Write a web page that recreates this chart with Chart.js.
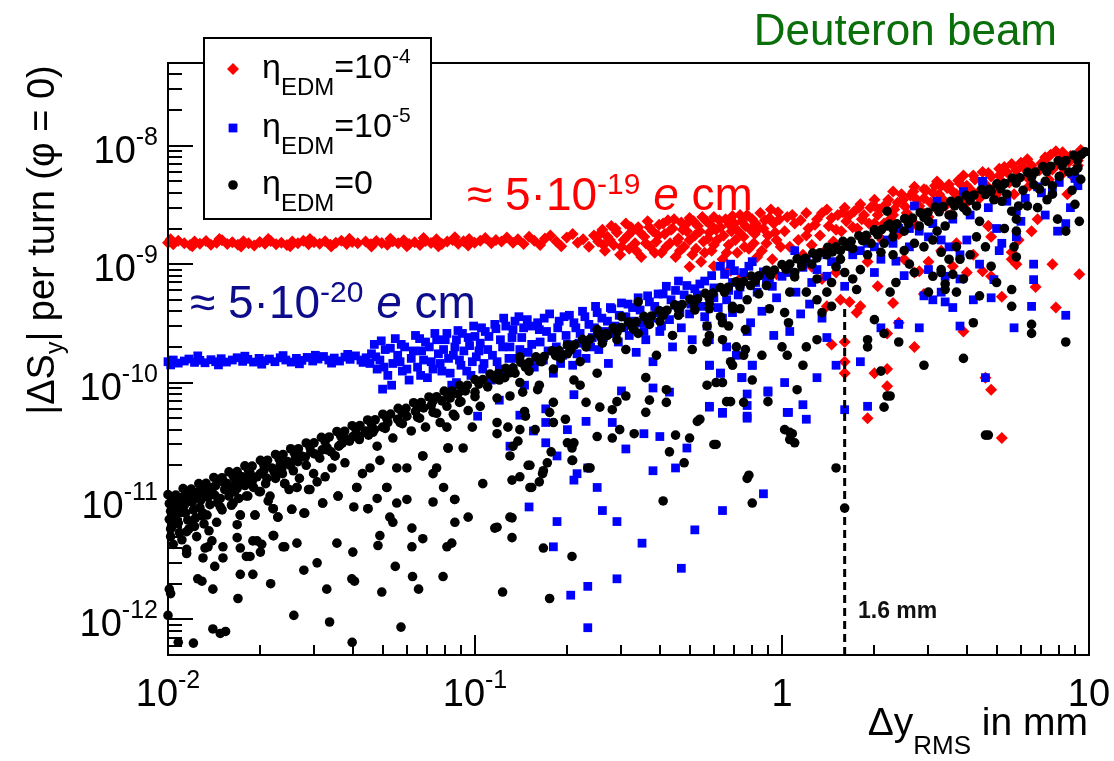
<!DOCTYPE html>
<html>
<head>
<meta charset="utf-8">
<script src="https://cdn.jsdelivr.net/npm/chart.js@4.4.0/dist/chart.umd.min.js"></script>
<style>
  html, body { margin: 0; padding: 0; background: #fff; }
</style>
</head>
<body>
<canvas id="spin_vs_dy" width="1114" height="761"></canvas>
<script>
const FONT = '"Liberation Sans", Arial, Helvetica, sans-serif';

// axis ticks and labels
const xTicks = [0.01, 0.1, 1, 10];
const xTickLabels = [['10', '-2'], ['10', '-1'], ['1', ''], ['10', '']];
const yTicks = [1e-12, 1e-11, 1e-10, 1e-9, 1e-8];
const yTickLabels = [['10', '-12'], ['10', '-11'], ['10', '-10'], ['10', '-9'], ['10', '-8']];

// dashed marker at 1.6 mm
const cutLine = [[1.6, 5e-13], [1.6, 4.2e-10]];

// eta_EDM = 1e-4 (red)
const redPoints = [
  [0.0100,1.52e-9],[0.0104,1.47e-9],[0.0108,1.58e-9],[0.0113,1.50e-9],[0.0118,1.45e-9],[0.0122,1.55e-9],[0.0127,1.49e-9],[0.0133,1.57e-9],
  [0.0138,1.46e-9],[0.0144,1.52e-9],[0.0150,1.59e-9],[0.0156,1.48e-9],[0.0162,1.53e-9],[0.0169,1.46e-9],[0.0176,1.56e-9],[0.0183,1.50e-9],
  [0.0191,1.44e-9],[0.0199,1.54e-9],[0.0207,1.49e-9],[0.0216,1.57e-9],[0.0225,1.47e-9],[0.0234,1.52e-9],[0.0244,1.45e-9],[0.0254,1.55e-9],
  [0.0265,1.50e-9],[0.0276,1.58e-9],[0.0287,1.47e-9],[0.0299,1.53e-9],[0.0312,1.49e-9],[0.0325,1.56e-9],[0.0338,1.46e-9],[0.0352,1.52e-9],
  [0.0367,1.58e-9],[0.0382,1.48e-9],[0.0398,1.54e-9],[0.0415,1.50e-9],[0.0440,1.55e-9],[0.0458,1.47e-9],[0.0477,1.57e-9],[0.0497,1.51e-9],
  [0.0518,1.46e-9],[0.0540,1.56e-9],[0.0562,1.50e-9],[0.0586,1.59e-9],[0.0610,1.48e-9],[0.0636,1.53e-9],[0.0662,1.45e-9],[0.0690,1.57e-9],
  [0.0719,1.51e-9],[0.0749,1.62e-9],[0.0780,1.48e-9],[0.0812,1.55e-9],[0.0846,1.60e-9],[0.0882,1.49e-9],[0.0918,1.56e-9],[0.0957,1.63e-9],
  [0.0997,1.52e-9],[0.104,1.58e-9],[0.108,1.66e-9],[0.113,1.50e-9],[0.117,1.60e-9],[0.122,1.55e-9],[0.127,1.68e-9],[0.133,1.52e-9],
  [0.138,1.62e-9],[0.144,1.48e-9],[0.150,1.70e-9],[0.156,1.58e-9],[0.163,1.45e-9],[0.169,1.65e-9],[0.176,1.75e-9],[0.184,1.55e-9],
  [0.191,1.42e-9],[0.199,1.68e-9],[0.208,1.80e-9],[0.216,1.52e-9],[0.225,1.62e-9],[0.235,1.40e-9],[0.244,1.75e-9],
  [0.0102,1.62e-9],[0.012,1.42e-9],[0.0147,1.63e-9],[0.0173,1.41e-9],[0.0212,1.63e-9],[0.025,1.42e-9],[0.029,1.63e-9],[0.034,1.41e-9],
  [0.039,1.64e-9],[0.046,1.41e-9],[0.053,1.64e-9],[0.06,1.42e-9],[0.068,1.66e-9],[0.076,1.42e-9],[0.086,1.69e-9],[0.095,1.44e-9],
  [0.252,1.55e-9],[0.26,1.95e-9],[0.265,1.3e-9],[0.27,1.7e-9],[0.278,2.1e-9],[0.283,1.45e-9],[0.29,1.85e-9],[0.297,1.2e-9],
  [0.305,1.6e-9],[0.31,2.2e-9],[0.318,1.35e-9],[0.325,1.9e-9],[0.332,1.5e-9],[0.34,2.05e-9],[0.348,1.15e-9],[0.356,1.7e-9],
  [0.365,2.3e-9],[0.372,1.4e-9],[0.38,1.9e-9],[0.39,1.55e-9],[0.398,2.15e-9],[0.405,1.25e-9],[0.415,1.8e-9],[0.425,2.35e-9],
  [0.432,1.5e-9],[0.44,2.0e-9],[0.45,1.15e-9],[0.46,1.65e-9],[0.47,2.25e-9],[0.48,1.4e-9],[0.49,1.9e-9],[0.5,2.45e-9],
  [0.51,1.2e-9],[0.52,1.75e-9],[0.532,2.1e-9],[0.545,1.05e-9],[0.555,1.55e-9],[0.567,2.3e-9],[0.58,1.85e-9],[0.59,1.3e-9],
  [0.6,2.5e-9],[0.615,1.6e-9],[0.63,2.05e-9],[0.64,1.1e-9],[0.655,2.4e-9],[0.67,1.45e-9],[0.685,1.9e-9],[0.7,2.2e-9],
  [0.715,1.25e-9],[0.73,2.6e-9],[0.75,1.7e-9],[0.76,2.1e-9],[0.78,1.35e-9],[0.8,2.4e-9],[0.815,1.8e-9],[0.83,1.15e-9],
  [0.85,2.7e-9],[0.87,2.0e-9],[0.89,1.5e-9],[0.91,2.45e-9],[0.93,1.1e-9],[0.95,1.85e-9],[0.97,2.75e-9],[0.99,1.4e-9],
  [0.255,1.8e-9],[0.262,1.45e-9],[0.275,1.6e-9],[0.287,2.0e-9],[0.3,1.4e-9],[0.315,1.75e-9],[0.322,2.05e-9],[0.335,1.3e-9],
  [0.345,1.85e-9],[0.36,1.5e-9],[0.37,2.05e-9],[0.385,1.25e-9],[0.395,1.75e-9],[0.41,2.2e-9],[0.42,1.4e-9],[0.435,1.95e-9],
  [0.445,2.4e-9],[0.455,1.55e-9],[0.465,1.3e-9],[0.475,1.95e-9],[0.485,2.15e-9],[0.5,1.6e-9],[0.515,2.3e-9],[0.525,1.35e-9],
  [0.54,1.9e-9],[0.55,2.5e-9],[0.56,1.25e-9],[0.575,1.65e-9],[0.585,2.15e-9],[0.6,1.45e-9],[0.61,1.95e-9],[0.625,2.35e-9],
  [0.645,1.75e-9],[0.66,1.25e-9],[0.675,2.15e-9],[0.69,2.55e-9],[0.705,1.6e-9],[0.72,1.9e-9],[0.74,2.3e-9],[0.755,1.4e-9],
  [0.77,2.6e-9],[0.79,1.95e-9],[0.81,1.5e-9],[0.82,2.2e-9],[0.84,2.0e-9],[0.86,1.3e-9],[0.88,2.35e-9],[0.9,1.75e-9],
  [0.92,2.9e-9],[0.94,2.2e-9],[0.96,1.6e-9],[0.98,2.4e-9],
  [0.6,9.6e-10],[0.66,8.5e-10],[0.68,8.8e-10],[0.74,7.8e-10],[0.96,8.2e-10],[0.5,9.5e-10],
  [1.04,2.5e-9],[1.2,2.7e-9],[1.4,2.9e-9],[1.6,3.0e-9],[1.8,3.2e-9],[2.0,3.5e-9],[2.3,4.1e-9],[2.7,4.5e-9],
  [2.9,4.3e-9],[3.2,5.0e-9],[3.3,4.6e-9],[3.9,5.6e-9],[4.5,6.0e-9],[5.1,6.4e-9],[5.6,7.0e-9],[6.3,7.7e-9],
  [7.2,8.0e-9],[7.8,9.0e-9],[9.2,7.5e-9],[9.0,5.3e-9],[8.5,3.9e-9],
  [1.02,1.9e-9],[1.06,1.4e-9],[1.1,2.2e-9],[1.13,1.6e-9],[1.17,1.2e-9],[1.22,2.0e-9],[1.25,1.45e-9],[1.3,2.4e-9],
  [1.33,1.75e-9],[1.38,1.3e-9],[1.42,2.1e-9],[1.47,1.55e-9],[1.52,2.6e-9],[1.56,1.9e-9],[1.62,2.3e-9],[1.66,1.4e-9],
  [1.72,2.8e-9],[1.76,2.0e-9],[1.82,2.4e-9],[1.88,1.7e-9],[1.94,3.0e-9],[2.0,2.2e-9],[2.05,2.6e-9],[2.12,1.6e-9],
  [2.18,3.2e-9],[2.25,2.4e-9],[2.32,2.9e-9],[2.4,1.8e-9],[2.48,3.5e-9],[2.55,2.7e-9],[2.62,3.8e-9],[2.7,2.2e-9],
  [2.8,3.1e-9],[2.9,3.6e-9],[3.0,2.5e-9],[3.1,4.0e-9],[3.2,2.9e-9],[3.35,3.5e-9],[3.45,4.4e-9],[3.55,2.6e-9],
  [3.7,3.9e-9],[3.8,4.8e-9],[3.95,3.2e-9],[4.1,4.3e-9],[4.25,5.2e-9],[4.4,3.6e-9],[4.6,4.7e-9],[4.7,2.1e-9],
  [4.8,5.5e-9],[5.0,3.9e-9],[5.2,5.0e-9],[5.4,6.0e-9],[5.7,3.9e-9],[5.9,5.4e-9],[6.1,6.6e-9],[6.4,4.6e-9],
  [6.6,5.9e-9],[6.8,2.4e-9],[7.0,7.1e-9],[7.4,5.2e-9],[7.6,6.3e-9],[8.0,7.6e-9],[8.3,6.0e-9],[8.7,8.2e-9],
  [9.2,6.8e-9],[9.5,8.6e-9],
  [1.08,2.6e-9],[1.15,2.35e-9],[1.2,1.75e-9],[1.28,2.15e-9],[1.35,2.7e-9],[1.45,2.45e-9],[1.5,1.95e-9],[1.58,2.75e-9],
  [1.65,2.55e-9],[1.7,2.05e-9],[1.78,3.0e-9],[1.85,2.6e-9],[1.92,2.2e-9],[2.0,3.1e-9],[2.08,2.9e-9],[2.15,2.2e-9],
  [2.22,3.5e-9],[2.3,2.6e-9],[2.38,3.3e-9],[2.45,3.9e-9],[2.52,3.05e-9],[2.6,2.4e-9],[2.68,4.1e-9],[2.75,3.5e-9],
  [2.85,2.8e-9],[2.95,4.2e-9],[3.05,3.3e-9],[3.15,4.6e-9],[3.25,3.9e-9],[3.4,3.1e-9],[3.5,4.7e-9],[3.6,4.1e-9],
  [3.75,5.1e-9],[3.85,3.6e-9],[4.0,4.6e-9],[4.2,5.6e-9],[4.35,4.0e-9],[4.5,5.0e-9],[4.7,5.9e-9],[4.9,4.4e-9],
  [5.1,5.6e-9],[5.3,6.6e-9],[5.5,4.9e-9],[5.8,6.2e-9],[6.0,7.2e-9],[6.3,5.4e-9],[6.5,6.8e-9],[6.9,6.2e-9],
  [7.2,7.6e-9],[7.5,8.4e-9],[7.9,7.0e-9],[8.2,8.8e-9],[8.6,7.3e-9],[9.0,8.0e-9],[9.4,9.2e-9],
  [9.3,8.2e-10],[7.8,4.3e-10],[5.2,3.4e-11],[4.8,8.7e-11],[4.6,1.1e-10],[3.9,2.7e-10],[6.7,6.4e-10],[7.6,1.0e-9],
  [6.5,1.9e-9],[5.9,1.6e-9],[5.6,1.1e-9],[5.2,5.3e-10],[4.8,7.9e-10],[4.5,8.7e-10],[4.0,8.5e-10],[3.6,9.6e-10],
  [3.0,1.05e-9],[2.8,8.7e-10],[2.7,8.5e-10],[2.3,4.7e-10],[2.2,2.6e-10],[2.0,1.2e-10],[2.2,1.3e-10],[2.2,9.3e-11],
  [1.9,5.0e-11],[1.8,4.4e-10],[1.6,1.5e-10],[1.6,1.2e-10],[1.6,2.2e-10],[1.45,2.1e-10],[2.7,2.0e-10],[2.4,3.2e-10],
  [1.66,4.8e-10],[1.75,3.9e-10],[1.4,4.4e-10],[1.55,5e-10],[2.9,5.6e-10],[5.8,1.0e-9],[5.6,1.26e-9],[4.8,1.7e-9],
  [4.7,2.1e-9],[1.25,9.5e-10],[1.35,7.5e-10],[1.5,8.5e-10],[2.05,6.5e-10],[2.5,1.1e-9],[3.3,1.3e-9],[3.7,1.5e-9],
  [4.2,1.2e-9],[1.9,1.05e-9]
];

// eta_EDM = 1e-5 (blue)
const bluePoints = [
  [0.0100,1.50e-10],[0.0104,1.55e-10],[0.0108,1.46e-10],[0.0113,1.52e-10],[0.0117,1.58e-10],[0.0122,1.48e-10],[0.0127,1.54e-10],[0.0132,1.47e-10],
  [0.0138,1.56e-10],[0.0143,1.50e-10],[0.0149,1.59e-10],[0.0155,1.49e-10],[0.0162,1.55e-10],[0.0168,1.62e-10],[0.0175,1.51e-10],[0.0182,1.57e-10],
  [0.0190,1.49e-10],[0.0198,1.60e-10],[0.0206,1.53e-10],[0.0214,1.58e-10],[0.0223,1.50e-10],[0.0232,1.62e-10],[0.0242,1.55e-10],[0.0252,1.49e-10],
  [0.0262,1.60e-10],[0.0273,1.54e-10],[0.0284,1.63e-10],[0.0296,1.52e-10],[0.0308,1.58e-10],[0.0321,1.66e-10],[0.0334,1.55e-10],[0.0348,1.61e-10],
  [0.0362,1.52e-10],[0.0377,1.64e-10],[0.0392,1.57e-10],[0.0408,1.68e-10],[0.0425,1.55e-10],[0.0442,1.62e-10],
  [0.0102,1.41e-10],[0.0125,1.68e-10],[0.0146,1.41e-10],[0.0178,1.67e-10],[0.0202,1.43e-10],[0.0237,1.69e-10],[0.0268,1.44e-10],[0.0302,1.7e-10],
  [0.0341,1.46e-10],[0.0385,1.73e-10],[0.0432,1.48e-10],
  [0.046,1.75e-10],[0.047,2.1e-10],[0.048,1.3e-10],[0.049,1.55e-10],[0.05,8.8e-11],[0.051,1.9e-10],[0.052,1.15e-10],[0.054,1.45e-10],
  [0.055,2.35e-10],[0.056,1.7e-10],[0.058,1.25e-10],[0.059,2.0e-10],[0.061,1.05e-10],[0.062,1.6e-10],[0.064,2.5e-10],[0.065,1.35e-10],
  [0.067,1.85e-10],[0.069,2.2e-10],[0.07,1.1e-10],[0.072,1.5e-10],[0.074,2.6e-10],[0.076,1.75e-10],[0.078,1.25e-10],[0.08,2.3e-10],
  [0.082,1.6e-10],[0.084,9.5e-11],[0.086,2.0e-10],[0.088,2.75e-10],[0.09,1.4e-10],[0.092,1.85e-10],[0.095,2.4e-10],[0.097,1.15e-10],
  [0.099,3.0e-10],[0.101,1.65e-10],[0.104,2.15e-10],[0.106,1.3e-10],
  [0.0455,1.45e-10],[0.0475,1.65e-10],[0.0495,2.25e-10],[0.0505,1.35e-10],[0.053,1.95e-10],[0.0535,9.5e-11],[0.057,1.5e-10],[0.0575,2.1e-10],
  [0.06,1.3e-10],[0.063,1.85e-10],[0.066,2.35e-10],[0.0665,1.15e-10],[0.068,1.55e-10],[0.071,2.0e-10],[0.073,1.3e-10],[0.075,2.3e-10],
  [0.077,1.45e-10],[0.079,1.9e-10],[0.081,2.6e-10],[0.083,1.2e-10],[0.085,1.7e-10],[0.087,2.3e-10],[0.089,1.55e-10],[0.091,2.6e-10],
  [0.094,1.25e-10],[0.096,2.05e-10],[0.098,1.5e-10],[0.1,2.45e-10],[0.103,1.85e-10],[0.105,2.9e-10],[0.107,1.45e-10],
  [0.108,2.7e-10],[0.11,1.9e-10],[0.113,1.05e-10],[0.116,3.1e-10],[0.118,1.5e-10],[0.121,2.3e-10],[0.124,3.5e-10],[0.127,1.25e-10],
  [0.13,2.0e-10],[0.133,2.8e-10],[0.136,1.6e-10],[0.139,3.6e-10],[0.142,2.4e-10],[0.145,9.5e-11],[0.149,1.8e-10],[0.152,3.0e-10],
  [0.156,1.35e-10],[0.16,3.2e-10],[0.163,2.2e-10],[0.167,1.55e-10],[0.171,2.7e-10],[0.175,3.8e-10],[0.18,1.2e-10],[0.184,2.0e-10],
  [0.188,3.3e-10],[0.193,1.7e-10],[0.198,2.5e-10],[0.203,3.7e-10],[0.208,1.4e-10],[0.213,2.9e-10],[0.218,2.15e-10],[0.224,4.0e-10],
  [0.23,1.6e-10],[0.235,3.1e-10],[0.241,2.4e-10],[0.247,4.4e-10],[0.253,1.9e-10],[0.259,3.5e-10],[0.266,2.7e-10],[0.272,1.45e-10],
  [0.279,4.2e-10],[0.286,3.0e-10],[0.293,2.2e-10],[0.3,4.7e-10],
  [0.111,2.45e-10],[0.114,1.7e-10],[0.117,2.85e-10],[0.12,1.3e-10],[0.123,2.0e-10],[0.126,3.0e-10],[0.129,1.6e-10],[0.132,2.4e-10],
  [0.135,3.3e-10],[0.14,1.9e-10],[0.144,2.9e-10],[0.148,3.4e-10],[0.153,2.1e-10],[0.158,1.6e-10],[0.162,2.8e-10],[0.168,3.5e-10],
  [0.173,1.85e-10],[0.178,2.4e-10],[0.186,2.9e-10],[0.19,1.45e-10],[0.195,3.6e-10],[0.2,2.1e-10],[0.21,3.2e-10],[0.215,1.75e-10],
  [0.22,2.6e-10],[0.228,3.6e-10],[0.238,2.0e-10],[0.245,2.9e-10],[0.25,3.9e-10],[0.262,2.4e-10],[0.27,3.3e-10],[0.276,4.3e-10],
  [0.285,2.6e-10],[0.295,3.7e-10],
  [0.31,3.6e-10],[0.318,2.5e-10],[0.326,4.3e-10],[0.335,1.8e-10],[0.34,5.2e-10],[0.35,3.2e-10],[0.36,2.3e-10],[0.37,4.8e-10],
  [0.38,1.5e-10],[0.39,3.9e-10],[0.4,2.7e-10],[0.41,5.6e-10],[0.42,6.5e-10],[0.43,3.4e-10],[0.44,2.0e-10],[0.45,4.5e-10],
  [0.46,7.2e-10],[0.47,2.9e-10],[0.48,5.5e-10],[0.5,3.8e-10],[0.51,2.3e-10],[0.52,6.2e-10],[0.54,6.8e-10],[0.55,4.4e-10],
  [0.57,3.0e-10],[0.58,2.3e-10],[0.58,1.4e-10],[0.59,8.0e-10],[0.6,5.2e-10],[0.63,1.2e-10],[0.63,9.6e-10],[0.64,3.5e-10],
  [0.66,2.0e-10],[0.66,5.0e-10],[0.68,1.0e-9],[0.69,3.9e-10],[0.69,7.0e-10],[0.71,1.7e-10],[0.72,5.5e-10],[0.74,1.1e-10],
  [0.75,8.5e-10],[0.77,2.7e-10],[0.79,3.2e-10],[0.8,1.4e-10],[0.8,1.05e-9],[0.83,5.8e-10],[0.86,4.0e-10],[0.89,7.4e-10],
  [0.91,7.4e-10],[0.94,2.5e-10],[0.96,5.2e-10],[1.0,7.9e-10],
  [0.305,2.9e-10],[0.315,4.6e-10],[0.33,3.3e-10],[0.345,4.1e-10],[0.355,2.7e-10],[0.365,5.4e-10],[0.375,3.5e-10],[0.385,4.4e-10],
  [0.395,5.6e-10],[0.405,3.0e-10],[0.415,4.0e-10],[0.435,5.0e-10],[0.45,6.0e-10],[0.465,3.9e-10],[0.49,6.6e-10],[0.505,4.6e-10],
  [0.53,5.5e-10],[0.56,7.2e-10],[0.56,3.6e-10],[0.6,6.3e-10],[0.62,4.3e-10],[0.65,8.2e-10],[0.67,6.0e-10],[0.7,8.8e-10],
  [0.73,6.4e-10],[0.78,9.6e-10],[0.82,7.0e-10],[0.87,8.6e-10],[0.93,6.5e-10],
  [1.06,2.7e-10],[1.11,5.8e-10],[1.17,9.4e-10],[1.23,4.6e-10],[1.3,9e-10],[1.4,7.9e-10],[1.4,1.2e-9],[1.4,2.4e-10],
  [1.3,1.1e-10],[1.5,1.4e-10],[1.6,5.9e-11],[1.7,1.2e-9],[1.8,1.5e-10],[1.9,6.3e-11],[1.9,1.5e-9],[2.1,1.1e-9],
  [2.1,2.9e-10],[2.35,1.06e-9],[2.4,3.1e-10],[2.4,2.0e-9],[2.6,1.4e-9],[2.6,2.0e-9],[2.7,3.1e-9],[2.8,2.9e-10],
  [2.9,5.4e-10],[3.0,1.7e-9],[3.1,5e-10],[3.2,3.4e-9],[3.3,1.6e-9],[3.3,5.8e-10],[3.4,4.8e-10],[3.4,7.9e-10],
  [3.5,1.4e-9],[3.6,4.3e-10],[3.8,3e-10],[3.8,7.5e-10],[3.8,1.2e-9],[3.9,4.1e-9],[4.2,5e-10],[4.4,1e-9],
  [4.5,5e-9],[4.6,1.1e-10],[4.8,5.2e-10],[4.9,7.4e-10],[5.1,1.3e-9],[5.2,1.5e-9],[5.7,2.9e-10],[5.8,1.7e-9],
  [5.8,2.8e-9],[6.5,4.4e-10],[6.6,7.4e-10],[6.6,1.0e-9],[6.8,4.5e-9],[7.6,4.1e-9],[7.9,1.9e-9],[8.4,2.2e-9],
  [8.4,3.7e-10],[8.8,5.8e-9],[9.2,4.6e-9],
  [1.05,8.5e-10],[1.2,1.1e-9],[1.45,1.05e-9],[1.8,1.3e-9],[2.0,1.4e-9],[2.3,1.5e-9],[2.8,1.9e-9],[3.1,2.2e-9],
  [3.6,2.4e-9],[4.1,2.6e-9],[4.7,3.0e-9],[5.4,3.4e-9],[6.2,3.6e-9],[7.0,4.0e-9],[8.0,4.9e-9],[9.0,5.3e-9],
  [2.5,8.0e-10],[3.0,9.0e-10],[4.0,1.6e-9],[5.0,2.0e-9],[6.0,2.3e-9],[7.2,2.6e-9],[8.7,3.0e-9],
  [1.1,1.3e-9],[1.25,7e-10],[1.5,1.0e-9],[1.6,6.5e-10],[2.0,8.5e-10],[2.2,1.6e-9],[1.35,3.5e-10],[1.15,3.8e-10],
  [1.02,1e-10],[1.04,5.6e-11],[1.17,6.5e-11],[1.2,4.9e-11],[0.9,8.5e-11],[0.77,8e-11],[0.77,5.2e-11],[0.64,5.6e-11],
  [0.58,6.2e-11],[0.63,1.2e-10],[0.58,1.4e-10],[0.8,1.4e-10],[0.74,1.1e-10],
  [0.233,8.5e-13],[0.205,1.6e-12],[0.233,1.9e-12],[0.29,2.2e-12],[0.47,2.7e-12],[0.35,4.4e-12],[0.18,4.1e-12],[0.52,5.7e-12],
  [0.29,6.7e-12],[0.26,8.3e-12],[0.185,6.7e-12],[0.15,8.9e-12],[0.64,8.3e-12],[0.87,1.15e-11],[0.38,1.8e-11],[0.45,1.9e-11],
  [0.21,1.5e-11],[0.215,1.7e-11],[0.25,1.3e-11],[0.233,1.9e-11],[0.31,2.75e-11],[0.49,2.8e-11],[0.40,3.5e-11],[0.355,3.7e-11],
  [0.185,2.4e-11],[0.17,3.1e-11],[0.2,4e-11],[0.23,4.7e-11],[0.28,4.6e-11],[0.58,6.3e-11],[0.64,5.5e-11],[0.77,5e-11],
  [0.77,6.4e-11],[0.9,8.3e-11],[1.05,5.6e-11],[0.43,8.3e-11],[0.38,9e-11],[0.3,8.5e-11],[0.21,7.9e-11],[0.17,6.0e-11],
  [0.17,4.6e-11],[0.13,2.9e-11],[0.12,7.1e-11],[0.14,5.3e-11],[0.155,3.9e-11],[0.102,5.2e-11],[0.087,1e-10]
];

// eta_EDM = 0 (black)
const blackPoints = [
  [0.0100,1.13e-11],[0.0106,1.12e-11],[0.0112,1.27e-11],[0.0119,1.26e-11],[0.0126,1.40e-11],[0.0133,1.41e-11],[0.0141,1.58e-11],[0.0150,1.57e-11],
  [0.0158,1.76e-11],[0.0168,1.77e-11],[0.0178,1.98e-11],[0.0188,1.97e-11],[0.0200,2.20e-11],[0.0211,2.21e-11],[0.0224,2.47e-11],[0.0237,2.47e-11],
  [0.0251,2.76e-11],[0.0266,2.76e-11],[0.0282,3.09e-11],[0.0299,3.10e-11],[0.0316,3.45e-11],[0.0335,3.47e-11],[0.0355,3.86e-11],[0.0376,3.88e-11],
  [0.0398,4.32e-11],[0.0422,4.34e-11],[0.0447,4.83e-11],[0.0473,4.85e-11],[0.0501,5.40e-11],[0.0531,5.42e-11],[0.0562,6.05e-11],[0.0596,6.06e-11],
  [0.0631,6.76e-11],[0.0668,6.79e-11],[0.0708,7.56e-11],[0.0750,7.59e-11],[0.0794,8.46e-11],[0.0841,8.49e-11],[0.0891,9.46e-11],[0.0944,9.50e-11],
  [0.100,1.06e-10],[0.106,1.06e-10],[0.112,1.18e-10],[0.119,1.19e-10],[0.126,1.32e-10],[0.133,1.33e-10],[0.141,1.48e-10],[0.150,1.48e-10],
  [0.158,1.65e-10],[0.168,1.66e-10],[0.178,1.85e-10],[0.188,1.86e-10],[0.200,2.07e-10],[0.211,2.08e-10],[0.224,2.32e-10],[0.237,2.33e-10],
  [0.251,2.59e-10],[0.266,2.60e-10],[0.282,2.90e-10],[0.299,2.91e-10],[0.316,3.24e-10],[0.335,3.26e-10],[0.355,3.62e-10],[0.376,3.65e-10],
  [0.398,4.05e-10],[0.422,4.08e-10],[0.447,4.53e-10],[0.473,4.56e-10],[0.501,5.07e-10],[0.531,5.10e-10],[0.562,5.67e-10],[0.596,5.70e-10],
  [0.631,6.34e-10],[0.668,6.38e-10],[0.708,7.10e-10],[0.750,7.13e-10],[0.794,7.94e-10],[0.841,7.98e-10],[0.891,8.88e-10],[0.944,8.92e-10],
  [1.00,9.93e-10],[1.06,1.00e-9],[1.12,1.11e-9],[1.19,1.12e-9],[1.26,1.24e-9],[1.33,1.25e-9],[1.41,1.39e-9],[1.50,1.40e-9],
  [1.58,1.56e-9],[1.68,1.56e-9],[1.78,1.74e-9],[1.88,1.75e-9],[2.00,1.95e-9],[2.11,1.96e-9],[2.24,2.18e-9],[2.37,2.19e-9],
  [2.51,2.43e-9],[2.66,2.45e-9],[2.82,2.72e-9],[2.99,2.74e-9],[3.16,3.04e-9],[3.35,3.06e-9],[3.55,3.40e-9],[3.76,3.43e-9],
  [3.98,3.81e-9],[4.22,3.84e-9],[4.47,4.26e-9],[4.73,4.29e-9],[5.01,4.77e-9],[5.31,4.80e-9],[5.62,5.33e-9],[5.96,5.37e-9],
  [6.31,5.96e-9],[6.68,6.00e-9],[7.08,6.67e-9],[7.50,6.71e-9],[7.94,7.46e-9],[8.41,7.51e-9],[8.91,8.34e-9],[9.44,8.41e-9],[9.7,8.9e-9],
  [0.0103,1.05e-11],[0.0116,1.17e-11],[0.0130,1.31e-11],[0.0146,1.46e-11],[0.0163,1.63e-11],[0.0183,1.82e-11],[0.0205,2.03e-11],[0.0230,2.27e-11],
  [0.0258,2.54e-11],[0.0290,2.84e-11],[0.0325,3.17e-11],[0.0365,3.55e-11],[0.0410,3.97e-11],[0.0460,4.44e-11],[0.0516,4.96e-11],[0.0579,5.55e-11],
  [0.0650,6.2e-11],[0.0729,6.94e-11],[0.0818,7.76e-11],[0.0918,8.67e-11],[0.103,9.7e-11],[0.116,1.08e-10],[0.130,1.21e-10],[0.146,1.35e-10],
  [0.163,1.51e-10],[0.183,1.69e-10],[0.205,1.89e-10],[0.230,2.12e-10],[0.258,2.37e-10],[0.290,2.65e-10],[0.325,2.96e-10],[0.365,3.31e-10],
  [0.410,3.70e-10],[0.460,4.14e-10],[0.516,4.63e-10],[0.579,5.18e-10],[0.650,5.79e-10],[0.729,6.47e-10],[0.818,7.24e-10],[0.918,8.09e-10],
  [1.03,9.05e-10],[1.16,1.01e-9],[1.30,1.13e-9],[1.46,1.27e-9],[1.63,1.42e-9],[1.83,1.58e-9],[2.05,1.77e-9],[2.30,1.98e-9],
  [2.58,2.21e-9],[2.90,2.48e-9],[3.25,2.77e-9],[3.65,3.10e-9],[4.10,3.46e-9],[4.60,3.87e-9],[5.16,4.33e-9],[5.79,4.84e-9],
  [6.50,5.41e-9],[7.29,6.05e-9],[8.18,6.77e-9],[9.18,7.57e-9],
  [0.0103,9.0e-12],[0.0105,1.05e-11],[0.011,9.6e-12],[0.0118,1.05e-11],[0.0125,1.1e-11],[0.013,1.15e-11],[0.0138,1.2e-11],[0.0143,1.35e-11],
  [0.0152,1.45e-11],[0.016,1.3e-11],[0.0165,1.2e-11],[0.0173,1.45e-11],[0.0182,1.55e-11],[0.019,1.3e-11],[0.02,1.7e-11],[0.021,1.55e-11],
  [0.0222,1.75e-11],[0.0235,1.9e-11],[0.025,2.0e-11],[0.0265,2.15e-11],[0.028,2.35e-11],[0.03,2.5e-11],[0.0318,2.7e-11],[0.034,2.6e-11],
  [0.037,3.1e-11],[0.04,3.5e-11],[0.044,3.9e-11],[0.047,4.0e-11],[0.052,4.6e-11],[0.056,4.9e-11],[0.06,5.2e-11],[0.064,5.7e-11],
  [0.068,6.1e-11],[0.072,6.4e-11],[0.078,7.0e-11],[0.083,7.4e-11],[0.088,8.0e-11],[0.093,8.5e-11],
  [0.0101,9.5e-12],[0.0102,8.2e-12],[0.0101,7.0e-12],[0.0103,6.0e-12],[0.0102,5.0e-12],[0.0104,4.3e-12],[0.0106,1.0e-11],[0.0107,8.8e-12],
  [0.0106,7.6e-12],[0.0108,6.5e-12],[0.0109,5.4e-12],[0.0111,4.7e-12],[0.0112,1.08e-11],[0.0113,9.2e-12],[0.0114,7.9e-12],[0.0116,6.9e-12],
  [0.0117,5.8e-12],[0.0115,3.9e-12],[0.0119,1.12e-11],[0.0120,9.8e-12],[0.0121,8.4e-12],[0.0123,7.2e-12],[0.0122,6.1e-12],[0.0124,5.0e-12],
  [0.0126,1.2e-11],[0.0128,1.02e-11],[0.0127,8.8e-12],[0.0129,7.5e-12],[0.0131,6.4e-12],[0.0132,1.25e-11],[0.0135,1.08e-11],[0.0137,9.3e-12],
  [0.0136,5.6e-12],[0.0140,1.3e-11],[0.0142,1.12e-11],[0.0145,9.7e-12],[0.0148,1.05e-11],[0.0150,8.4e-12],[0.0153,1.25e-11],[0.0156,1.4e-11],
  [0.0158,1.1e-11],[0.0161,9.2e-12],[0.0166,1.5e-11],[0.0168,1.28e-11],[0.0170,1.05e-11],[0.0172,7.6e-12],[0.0175,1.6e-11],[0.0178,1.35e-11],
  [0.0180,1.1e-11],[0.0185,1.72e-11],[0.0188,1.45e-11],[0.0192,7.6e-12],[0.0195,1.6e-11],[0.0198,1.2e-11],[0.0205,1.8e-11],[0.0208,1.4e-11],
  [0.0212,1.0e-11],[0.0218,1.9e-11],[0.0220,8.6e-12],[0.0224,1.55e-11],[0.0228,7.3e-12],[0.0232,2.0e-11],[0.0236,1.7e-11],[0.0240,1.4e-11],
  [0.0245,2.15e-11],[0.0248,1.25e-11],[0.0253,8.5e-12],[0.0256,1.8e-11],[0.0260,2.3e-11],[0.0263,1.3e-11],[0.0268,1.55e-11],[0.0272,2.4e-11],
  [0.0277,7.9e-12],[0.0282,2.0e-11],[0.0287,1.25e-11],[0.0292,2.6e-11],[0.0298,1.7e-11],[0.0306,1.45e-11],[0.0312,2.3e-11],[0.0319,9.6e-12],
  [0.0325,1.6e-11],[0.0330,2.8e-11],[0.0342,1.9e-11],[0.0350,2.4e-11],[0.0358,1.1e-11],[0.0365,3.0e-11],[0.0377,2.1e-11],[0.0385,3.3e-11],
  [0.0403,8.9e-12],[0.0412,1.3e-11],[0.0420,3.5e-11],[0.0430,1.7e-11],[0.0448,8.6e-12],[0.0455,1.9e-11],[0.0465,3.8e-11],[0.048,1.05e-11],
  [0.049,2.2e-11],[0.050,4.2e-11],[0.0516,1.3e-11],[0.0528,7.3e-12],[0.054,6.6e-12],[0.0556,9.6e-12],[0.0556,1.9e-11],[0.057,4.6e-11],
  [0.060,1.03e-11],[0.060,1.9e-11],[0.0623,5.9e-12],[0.0676,2.4e-11],[0.066,5.0e-11],[0.073,9.8e-12],[0.073,1.7e-11],[0.075,1.9e-11],
  [0.075,5.5e-11],[0.079,1.3e-11],[0.0817,2.8e-11],[0.0858,1.03e-11],[0.0915,2.8e-11],
  [0.033,2.7e-11],[0.036,2.9e-11],[0.039,3.2e-11],[0.042,3.3e-11],[0.045,3.6e-11],[0.048,2.9e-11],[0.051,4.1e-11],[0.054,3.4e-11],
  [0.058,4.5e-11],[0.062,3.9e-11],[0.065,5.1e-11],[0.069,4.2e-11],[0.073,5.6e-11],[0.077,4.6e-11],[0.081,6.3e-11],[0.086,5.2e-11],
  [0.09,6.9e-11],[0.095,5.8e-11],[0.1,7.6e-11],
  [0.0108,6.4e-13],[0.0121,6.3e-13],[0.014,8.3e-13],[0.0148,7.6e-13],[0.0154,7.9e-13],[0.0100,1.08e-12],[0.0101,1.8e-12],[0.0102,1.65e-12],
  [0.0125,2.2e-12],[0.0129,2.1e-12],[0.014,1.8e-12],[0.0169,1.5e-12],[0.0172,2.4e-12],[0.0189,2.4e-12],[0.0216,2.0e-12],[0.0257,1.08e-12],
  [0.0336,9.5e-13],[0.0398,6.4e-13],[0.0277,2.6e-12],[0.0329,1.8e-12],[0.0397,2.2e-12],[0.0405,2.1e-12],[0.0306,3.0e-12],[0.0355,4.4e-12],
  [0.0400,3.7e-12],[0.0497,1.7e-12],[0.0574,8.6e-13],[0.055,2.8e-12],[0.0626,2.3e-12],[0.0655,1.8e-12],[0.0787,2.3e-12],[0.123,1.7e-12],
  [0.175,1.5e-12],[0.207,3.4e-12],[0.167,4.0e-12],[0.132,4.9e-12],[0.116,5.9e-12],[0.132,7.2e-12],[0.095,7.3e-12],[0.086,6.6e-12],
  [0.081,4.1e-12],[0.084,4.4e-12],[0.0676,4.8e-12],[0.0623,4.1e-12],[0.0483,4.2e-12],[0.049,5.1e-12],[0.0263,4.4e-12],[0.024,4.1e-12],
  [0.0221,5.1e-12],[0.0202,4.3e-12],[0.0185,3.4e-12],[0.0172,4.0e-12],[0.0151,3.3e-12],[0.0142,2.8e-12],[0.013,3.3e-12],[0.0151,4.1e-12],
  [0.0135,4.1e-12],[0.0139,4.6e-12],[0.0168,4.9e-12],[0.0189,4.6e-12],[0.02,3.7e-12],[0.0115,3.6e-12],[0.0132,4.0e-12],[0.018,3.4e-12],
  [0.0237,4.1e-12],[0.022,5.1e-12],[0.0168,6.3e-12],[0.0195,4.6e-12],[0.0134,7.6e-12],[0.0148,8.9e-12],
  [0.013,7.9e-12],[0.0144,6.6e-12],[0.0172,7.6e-12],[0.0192,7.6e-12],[0.022,8.6e-12],[0.0228,7.3e-12],[0.0253,8.5e-12],[0.0279,7.9e-12],
  [0.0319,9.6e-12],[0.0358,1.1e-11],[0.0448,8.6e-12],[0.106,1.4e-11],[0.132,1.5e-11],[0.14,1.6e-11],[0.151,1.3e-11],[0.166,1.7e-11],
  [0.208,2.2e-11],[0.237,1.9e-11],[0.151,2.0e-11],[0.0817,2.8e-11],[0.0676,2.4e-11],[0.0516,1.3e-11],[0.0412,1.3e-11],[0.035,2.4e-11],
  [0.029,1.25e-11],[0.0263,1.3e-11],[0.024,1.4e-11],[0.0215,1.1e-11],[0.02,1.2e-11],[0.0182,1.1e-11],[0.0163,9.6e-12],[0.0116,1.07e-11],
  [0.0109,7.9e-12],[0.0104,6.6e-12],[0.0102,5.8e-12],[0.0115,5.5e-12],[0.012,6.6e-12],[0.13,7.3e-12],[0.118,6.0e-12],
  [0.086,1.03e-11],[0.162,1.45e-11],[0.153,1.3e-11],[0.149,2.0e-11],[0.167,1.8e-11],[0.172,2.1e-11],[0.207,2.2e-11],[0.233,1.9e-11],
  [0.41,1.0e-11],[0.77,1.55e-11],[0.8,9.6e-12],[0.43,2.6e-11],[0.48,2.1e-11],[0.61,3.0e-11],[0.5,3.4e-11],[0.45,3.6e-11],
  [0.33,3.7e-11],[0.28,3.4e-11],[0.25,3.5e-11],[0.207,2.8e-11],[0.2,3.1e-11],[0.177,2.6e-11],[0.157,4.0e-11],[0.133,2.9e-11],
  [0.13,2.4e-11],[0.118,3.7e-11],[0.14,4.0e-11],[0.138,3.2e-11],[0.128,4.2e-11],[0.146,5.2e-11],[0.18,4.6e-11],[0.197,4.9e-11],
  [0.21,3.1e-11],[0.175,5.6e-11],[0.18,6.8e-11],[0.145,5.7e-11],[0.118,4.6e-11],[0.098,4.2e-11],[0.085,5.4e-11],[0.081,4.2e-11],
  [0.089,6.8e-11],[0.104,6.3e-11],[0.118,7.4e-11],[0.143,8.3e-11],[0.162,9.5e-11],[0.22,9.5e-11],[0.23,6.8e-11],[0.255,6.2e-11],
  [0.28,5.9e-11],[0.29,6.9e-11],[0.296,4.0e-11],[0.36,5.6e-11],[0.37,7.1e-11],[0.42,6.8e-11],[0.53,4.7e-11],[0.57,9.5e-11],
  [0.64,1.0e-10],[0.66,6.9e-11],[0.9,6.9e-11],[1.08,3.7e-11],[1.1,3.1e-11],[1.12,8.7e-11],
  [0.27,2.5e-10],[0.31,1.9e-10],[0.34,2.6e-10],[0.39,1.7e-10],[0.44,2.5e-10],[0.51,1.9e-10],[0.57,2.2e-10],[0.64,3.2e-10],
  [0.69,4.2e-10],[0.76,2.8e-10],[0.8,1.05e-10],[0.22,1.5e-10],[0.25,1.2e-10],[0.21,1.05e-10],[0.18,1.3e-10],[0.16,8.7e-11],
  [0.14,1.0e-10],[0.13,7.7e-11],[0.1,8.3e-11],[0.36,1.1e-10],[0.42,8.7e-11],[0.31,7.7e-11],[0.68,1.5e-10],[0.61,1.0e-10],
  [0.75,6.8e-11],[0.76,1.9e-10],[0.14,1.65e-10],[0.12,1.05e-10],[0.25,2.8e-10],[0.3,3.6e-10],[0.34,4.8e-10],
  [0.11,9.2e-11],[0.125,1.1e-10],[0.135,1.2e-10],[0.15,1.25e-10],[0.165,1.5e-10],[0.19,1.6e-10],[0.2,1.75e-10],[0.23,2.0e-10],
  [0.26,2.15e-10],[0.29,2.3e-10],[0.33,2.8e-10],[0.37,3.1e-10],[0.4,3.3e-10],[0.46,3.7e-10],[0.52,4.1e-10],[0.58,4.6e-10],
  [1.1,8.5e-10],[1.25,1.0e-9],[1.4,1.2e-9],[1.55,1.3e-9],[1.7,1.35e-9],[1.95,1.5e-9],[2.3,1.7e-9],[2.5,1.9e-9],
  [2.8,2.1e-9],[3.0,2.3e-9],[3.5,2.6e-9],[3.9,3.0e-9],[4.3,3.1e-9],[4.9,3.5e-9],[5.4,3.9e-9],[6.1,4.2e-9],
  [6.6,4.7e-9],[7.2,5.0e-9],[8.0,5.5e-9],[8.6,6.0e-9],[9.2,6.5e-9],[2.5,1.3e-9],[2.6,1.0e-9],[3.5,1.1e-9],
  [4.3,1.7e-9],[5.3,2.0e-9],[6.8,3.0e-9],[7.3,3.5e-9],[8.8,4.2e-9],[9.4,5.2e-9],[1.3,7.5e-10],[1.5,9.5e-10],[2.3,1.2e-9],
  [8.4,2.2e-10],[6.5,3.1e-10],[6.5,2.6e-10],[4.6,3.6e-11],[3.9,1.6e-10],[4.2,3.2e-10],[2.9,1.4e-10],[5.6,4.4e-10],
  [5.6,6.1e-10],[5.0,7.0e-10],[4.8,9.6e-10],[4.6,1.4e-9],[4.1,1.2e-9],[3.9,7.5e-10],[3.6,8.2e-10],[3.4,6.1e-10],
  [3.3,8.5e-10],[3.1,7.9e-10],[3.7,5.8e-10],[4.4,5.4e-10],[5.8,1.15e-9],[5.7,1.4e-9],[5.8,1.9e-9],[5.8,2.4e-9],
  [5.9,3.1e-9],[6.3,3.1e-9],[6.9,4.3e-9],[7.6,4.6e-9],[7.9,2.4e-9],[8.4,1.9e-9],[9.0,3.2e-9],[9.0,6.1e-9],
  [9.3,2.3e-9],[7.6,3.9e-9],[5.6,2.8e-9],[5.2,3.4e-9],[4.8,4.1e-9],[4.4,2.3e-9],[4.0,2.8e-9],[3.6,2.6e-9],
  [3.4,2.1e-9],[3.2,1.9e-9],[3.1,1.6e-9],[2.9,1.4e-9],[2.7,1.5e-9],[3.3,1.26e-9],[3.7,1.4e-9],[3.8,1.1e-9],
  [3.3,9e-10],[3.4,6.8e-10],[3.0,5.8e-10],[2.7,8.5e-10],[2.35,7e-10],[2.25,5.8e-10],[2.15,1.5e-9],[2.1,1.26e-9],
  [2.2,2.1e-9],[2.2,2.8e-9],[2.0,1.9e-9],[1.85,1.6e-9],[1.9,1.2e-9],[1.8,9e-10],[1.75,6.1e-10],[1.5,1.9e-11],
  [1.7,7.5e-10],[1.6,8.5e-10],[1.55,1.1e-9],[1.45,7e-10],[1.4,5.8e-10],[1.3,5e-10],[1.45,4.4e-10],[1.35,3.9e-10],
  [2.0,3.4e-10],[1.9,2.3e-10],[1.9,2.0e-10],[2.15,2.6e-10],[2.4,2.2e-10],[2.1,1.25e-10],[2.2,7.7e-11],[2.15,6.2e-11],
  [2.25,7.7e-11],[1.2,5.8e-10],[1.16,9.6e-10],[1.1,7.8e-10],[1.06,5.8e-10],[1.02,3.9e-10],[1.05,3.2e-10],[0.91,4.2e-10],
  [0.89,6.6e-10],[0.84,5.6e-10],[0.79,6.6e-10],[0.77,5e-10],[0.73,4.2e-10],[0.69,4.4e-10],[0.67,3e-10],[0.63,3.6e-10],
  [0.58,4.2e-10],[0.57,3e-10],[0.58,2.5e-10],[0.64,2.3e-10],[0.71,2e-10],[0.75,1.7e-10],[0.69,1.4e-10],[0.86,1.7e-10],
  [1.0,2e-10],[1.04,1.7e-10],[1.02,4e-11],[1.06,3.3e-11],[1.2,2e-10],[1.17,1.4e-10],[1.3,2.3e-10],[0.78,1.65e-11],
  [0.6,3e-11],[0.54,4.9e-11],[0.68,6.9e-11],[1.06,3.8e-11],[1.6,8.7e-12],[4.7,3.6e-11]
];

function toXY(arr) {
  return arr.map(function (p) { return { x: p[0], y: p[1] }; });
}

// draws a run of text pieces: [text, size, dy, style]
function richText(ctx, x, y, segs, align, color) {
  let total = 0;
  const widths = segs.map(function (s) {
    ctx.font = (s[3] || '') + ' ' + s[1] + 'px ' + FONT;
    const w = ctx.measureText(s[0]).width;
    total += w;
    return w;
  });
  let cx = x;
  if (align === 'right') cx = x - total;
  if (align === 'center') cx = x - total / 2;
  ctx.fillStyle = color || '#000';
  ctx.textAlign = 'left';
  ctx.textBaseline = 'alphabetic';
  segs.forEach(function (s, i) {
    ctx.font = (s[3] || '') + ' ' + s[1] + 'px ' + FONT;
    ctx.fillText(s[0], cx, y + s[2]);
    cx += widths[i];
  });
}

function marker(ctx, kind, x, y) {
  ctx.beginPath();
  if (kind === 'diamond') {
    ctx.moveTo(x - 6, y); ctx.lineTo(x, y - 6); ctx.lineTo(x + 6, y); ctx.lineTo(x, y + 6);
    ctx.closePath(); ctx.fillStyle = '#ff0000';
  } else if (kind === 'square') {
    ctx.rect(x - 4.4, y - 4.4, 8.8, 8.8); ctx.fillStyle = '#0000ff';
  } else {
    ctx.arc(x, y, 4.8, 0, Math.PI * 2); ctx.fillStyle = '#000';
  }
  ctx.fill();
}

const rootDecor = {
  id: 'rootDecor',
  afterDraw(chart) {
    const ctx = chart.ctx;
    const a = chart.chartArea;
    const xs = chart.scales.x;
    const ys = chart.scales.y;
    ctx.save();

    // frame
    ctx.strokeStyle = '#000';
    ctx.lineWidth = 2;
    ctx.strokeRect(a.left, a.top, a.right - a.left, a.bottom - a.top);

    // ticks, drawn inside the frame
    ctx.beginPath();
    for (let e = -2; e <= 1; e++) {
      for (let m = 1; m <= 9; m++) {
        const v = m * Math.pow(10, e);
        if (v > 10.001) break;
        const px = Math.round(xs.getPixelForValue(v));
        ctx.moveTo(px, a.bottom);
        ctx.lineTo(px, a.bottom - (m === 1 ? 20 : 10));
      }
    }
    for (let e = -13; e <= -8; e++) {
      for (let m = 1; m <= 9; m++) {
        const v = m * Math.pow(10, e);
        if (v < 5e-13 || v > 5.01e-8) continue;
        const py = Math.round(ys.getPixelForValue(v));
        ctx.moveTo(a.left, py);
        ctx.lineTo(a.left + (m === 1 ? 25 : 14), py);
      }
    }
    ctx.stroke();

    // tick labels
    yTicks.forEach(function (v, i) {
      const py = ys.getPixelForValue(v);
      richText(ctx, 158, py + 17, [[yTickLabels[i][0], 38, 0], [yTickLabels[i][1], 25, -18]], 'right');
    });
    xTicks.forEach(function (v, i) {
      const px = xs.getPixelForValue(v);
      richText(ctx, px, 706, [[xTickLabels[i][0], 38, 0], [xTickLabels[i][1], 25, -18]], 'center');
    });

    // axis titles
    richText(ctx, 1088, 735, [['\u0394y', 39, 0], ['RMS', 26, 19], [' in mm', 39, 0]], 'right');
    ctx.save();
    ctx.translate(54, 240);
    ctx.rotate(-Math.PI / 2);
    richText(ctx, 0, 0, [['|\u0394S', 38, 0], ['y', 25, 9], ['| per turn (\u03c6 = 0)', 38, 0]], 'center');
    ctx.restore();

    // legend box
    ctx.fillStyle = '#fff';
    ctx.fillRect(204, 38, 227, 181);
    ctx.strokeStyle = '#000';
    ctx.lineWidth = 2;
    ctx.strokeRect(204, 38, 227, 181);
    const rows = [['diamond', 78, '=10', '-4'], ['square', 137, '=10', '-5'], ['dot', 194, '=0', '']];
    rows.forEach(function (r) {
      marker(ctx, r[0], 233, r[1] - 9);
      richText(ctx, 262, r[1], [['\u03b7', 34, 0], ['EDM', 24, 17], [r[2], 34, 0], [r[3], 21, -15]], 'left');
    });

    // annotations
    richText(ctx, 467, 210, [['\u2248 5\u00b710', 46, 0], ['-19', 30, -16], [' ', 46, 0], ['e', 46, 0, 'italic'], [' cm', 46, 0]], 'left', '#ff0000');
    richText(ctx, 190, 318, [['\u2248 5\u00b710', 46, 0], ['-20', 30, -16], [' ', 46, 0], ['e', 46, 0, 'italic'], [' cm', 46, 0]], 'left', '#0c0c8c');
    richText(ctx, 1057, 45, [['Deuteron beam', 44, 0]], 'right', '#0a6e0a');
    richText(ctx, 858, 618, [['1.6 mm', 23, 0, 'bold']], 'left', '#111');

    ctx.restore();
  }
};

new Chart(document.getElementById('spin_vs_dy'), {
  type: 'scatter',
  data: {
    datasets: [
      {
        label: 'eta_EDM = 1e-4',
        data: toXY(redPoints),
        pointStyle: 'rectRot',
        pointRadius: 6,
        pointBackgroundColor: '#ff0000',
        pointBorderWidth: 0,
        clip: false,
        order: 3
      },
      {
        label: 'eta_EDM = 1e-5',
        data: toXY(bluePoints),
        pointStyle: 'rect',
        pointRadius: 6.2,
        pointBackgroundColor: '#0000ff',
        pointBorderWidth: 0,
        clip: false,
        order: 2
      },
      {
        label: 'eta_EDM = 0',
        data: toXY(blackPoints),
        pointStyle: 'circle',
        pointRadius: 4.8,
        pointBackgroundColor: '#000000',
        pointBorderWidth: 0,
        clip: false,
        order: 1
      },
      {
        type: 'line',
        label: '1.6 mm',
        data: toXY(cutLine),
        borderColor: '#000',
        borderWidth: 3,
        borderDash: [8, 5],
        pointRadius: 0,
        fill: false,
        order: 0
      }
    ]
  },
  options: {
    responsive: false,
    animation: false,
    devicePixelRatio: 1,
    events: [],
    layout: { padding: { left: 168, right: 25, top: 63, bottom: 106 } },
    scales: {
      x: { type: 'logarithmic', min: 0.01, max: 10, display: false },
      y: { type: 'logarithmic', min: 5e-13, max: 5e-8, display: false }
    },
    plugins: {
      legend: { display: false },
      tooltip: { enabled: false }
    }
  },
  plugins: [rootDecor]
});
</script>
</body>
</html>
